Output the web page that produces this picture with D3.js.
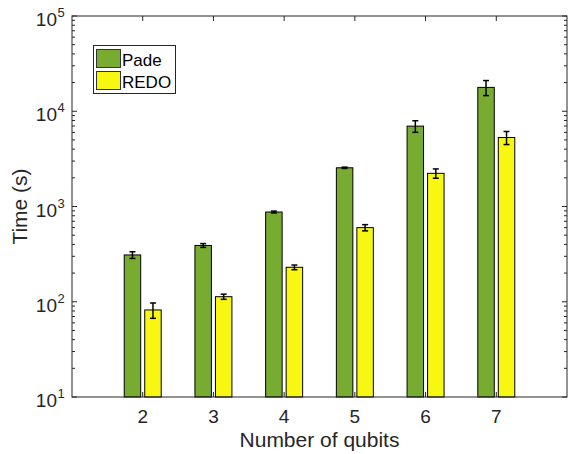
<!DOCTYPE html>
<html>
<head>
<meta charset="utf-8">
<script src="https://cdn.jsdelivr.net/npm/d3@7"></script>
<style>
  body { margin: 0; background: #fff; }
  svg { font-family: "Liberation Sans", Arial, sans-serif; }
</style>
</head>
<body>
<div class="chart"></div>
<script>
var qubits = [2, 3, 4, 5, 6, 7];
var series = ["Pade", "REDO"];
var padeTime = [310, 390, 875, 2550, 6980, 17800];
var padeErr = [25, 18, 20, 40, 970, 3200];
var redoTime = [82, 113, 230, 600, 2230, 5300];
var redoErr = [15, 7, 13, 45, 250, 830];
var yTickExp = [1, 2, 3, 4, 5];

(function () {
    var W = 569, H = 454;
    var pL = 72, pR = 567, pT = 16, pB = 397;
    var ink = "#262626";
    var colors = {"Pade": "#77AC30", "REDO": "#F7F712"};

    var svg = d3.select(".chart").append("svg")
        .attr("width", W).attr("height", H);

    var x = d3.scaleLinear().domain([1, 8]).range([pL, pR]);
    var y = d3.scaleLog().domain([10, 1e5]).range([pB, pT]);

    var unit = x(2) - x(1);
    var barW = 0.233 * unit;
    var offs = {"Pade": -0.145 * unit, "REDO": 0.145 * unit};

    var rows = [];
    qubits.forEach(function (q, i) {
        rows.push({s: "Pade", q: q, v: padeTime[i], e: padeErr[i]});
        rows.push({s: "REDO", q: q, v: redoTime[i], e: redoErr[i]});
    });

    // bars
    svg.append("g").selectAll("rect")
        .data(rows).enter().append("rect")
        .attr("x", function (d) { return x(d.q) + offs[d.s] - barW / 2; })
        .attr("y", function (d) { return y(d.v); })
        .attr("width", barW)
        .attr("height", function (d) { return pB - y(d.v); })
        .attr("fill", function (d) { return colors[d.s]; })
        .attr("stroke", "#000")
        .attr("stroke-width", 1);

    // error bars
    var eb = svg.append("g").attr("stroke", "#000").attr("stroke-width", 1.5);
    rows.forEach(function (d) {
        var cx = x(d.q) + offs[d.s];
        var y0 = y(d.v + d.e), y1 = y(d.v - d.e);
        eb.append("line").attr("x1", cx).attr("x2", cx).attr("y1", y0).attr("y2", y1);
        eb.append("line").attr("x1", cx - 3).attr("x2", cx + 3).attr("y1", y0).attr("y2", y0);
        eb.append("line").attr("x1", cx - 3).attr("x2", cx + 3).attr("y1", y1).attr("y2", y1);
    });

    // box
    svg.append("rect")
        .attr("x", pL).attr("y", pT)
        .attr("width", pR - pL).attr("height", pB - pT)
        .attr("fill", "none").attr("stroke", ink).attr("stroke-width", 1);

    // ticks inward
    var tk = svg.append("g").attr("stroke", ink).attr("stroke-width", 1);
    qubits.forEach(function (q) {
        tk.append("line").attr("x1", x(q)).attr("x2", x(q)).attr("y1", pB).attr("y2", pB - 5);
        tk.append("line").attr("x1", x(q)).attr("x2", x(q)).attr("y1", pT).attr("y2", pT + 5);
    });
    var minor = [];
    for (var e = 1; e < 5; e++) {
        for (var m = 2; m <= 9; m++) minor.push(m * Math.pow(10, e));
    }
    yTickExp.forEach(function (p) {
        var yy = y(Math.pow(10, p));
        tk.append("line").attr("x1", pL).attr("x2", pL + 5).attr("y1", yy).attr("y2", yy);
        tk.append("line").attr("x1", pR).attr("x2", pR - 5).attr("y1", yy).attr("y2", yy);
    });
    minor.forEach(function (v) {
        var yy = y(v);
        tk.append("line").attr("x1", pL).attr("x2", pL + 3).attr("y1", yy).attr("y2", yy);
        tk.append("line").attr("x1", pR).attr("x2", pR - 3).attr("y1", yy).attr("y2", yy);
    });

    // x tick labels
    svg.append("g").selectAll("text")
        .data(qubits).enter().append("text")
        .attr("x", function (d) { return x(d); })
        .attr("y", 423)
        .attr("text-anchor", "middle")
        .attr("font-size", 19)
        .attr("fill", ink)
        .text(function (d) { return d; });

    // y tick labels: base and exponent
    svg.append("g").selectAll("text")
        .data(yTickExp).enter().append("text")
        .attr("x", 57)
        .attr("y", function (d) { return y(Math.pow(10, d)) + 10; })
        .attr("font-size", 19)
        .attr("fill", ink)
        .attr("text-anchor", "end")
        .text("10");
    svg.append("g").selectAll("text")
        .data(yTickExp).enter().append("text")
        .attr("x", 57.5)
        .attr("y", function (d) { return y(Math.pow(10, d)) + 1; })
        .attr("font-size", 13)
        .attr("fill", ink)
        .text(function (d) { return d; });

    // axis titles
    svg.append("text")
        .attr("x", (pL + pR) / 2).attr("y", 447)
        .attr("text-anchor", "middle")
        .attr("font-size", 21)
        .attr("fill", ink)
        .text("Number of qubits");
    svg.append("text")
        .attr("transform", "translate(27," + ((pT + pB) / 2) + ") rotate(-90)")
        .attr("text-anchor", "middle")
        .attr("font-size", 21)
        .attr("fill", ink)
        .text("Time (s)");

    // legend
    var lg = svg.append("g");
    lg.append("rect")
        .attr("x", 93.5).attr("y", 45.5).attr("width", 82).attr("height", 48)
        .attr("fill", "#fff").attr("stroke", ink).attr("stroke-width", 1);
    series.forEach(function (s, i) {
        lg.append("rect")
            .attr("x", 96.5).attr("y", 49.5 + i * 22).attr("width", 24).attr("height", 18)
            .attr("fill", colors[s]).attr("stroke", "#333").attr("stroke-width", 1);
        lg.append("text")
            .attr("x", 122).attr("y", 65.5 + i * 22)
            .attr("font-size", 17)
            .attr("fill", "#000")
            .text(s);
    });
})();
</script>
</body>
</html>
